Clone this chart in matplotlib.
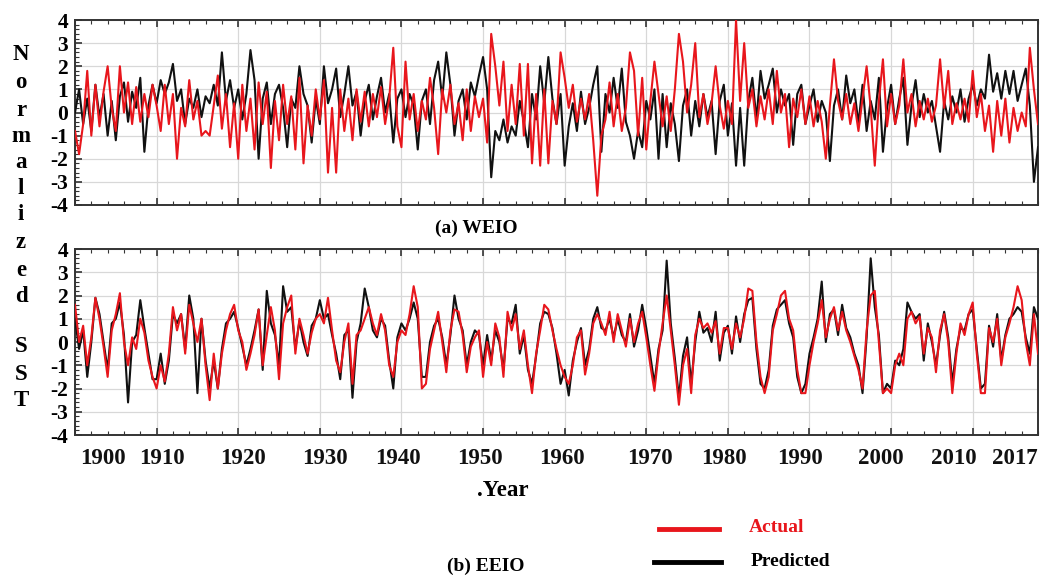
#!/usr/bin/env python3
"""
Normalized SST, actual vs predicted, for WEIO (top) and EEIO (bottom).
Writes out.png
"""

import numpy as np
import matplotlib.pyplot as plt
from matplotlib.lines import Line2D
from matplotlib.ticker import MultipleLocator

# ── data (half-year steps, 1900.0 … 2018.0) ─────────────────────────
years = np.arange(1900.0, 2018.01, 0.5)

weio_actual = [
    -0.8, -1.8, -0.5, 1.8, -1.0, 1.2, -0.6, 0.9, 2.0, 0.2, -0.8, 2.0, 0.0, 1.3, -0.5, 1.1, -0.4, 0.8, -0.2, 1.2,
    0.3, -0.8, 1.2, -0.5, 0.8, -2.0, 0.2, -0.6, 1.4, -0.3, 0.5, -1.0, -0.8, -1.0, 0.3, 1.6, -0.7, 0.8, -1.5, 0.4,
    -2.0, 1.2, -0.8, 0.6, -1.6, 1.3, -0.5, 0.9, -2.4, 0.5, -1.2, 1.2, -0.5, 0.7, -1.6, 1.5, -2.2, 0.3, -1.0, 1.0,
    -0.3, 1.4, -2.6, 0.2, -2.6, 1.0, -0.8, 0.6, -1.2, 1.0, -0.4, 0.9, -0.6, 0.8, -0.2, 1.1, -0.5, 0.6, 2.8, -0.6,
    -1.5, 2.2, -0.3, 0.8, -0.8, 0.5, -0.3, 1.5, 0.2, -1.8, 1.0, 0.0, 1.2, -0.5, 0.4, -1.2, 1.0, -0.8, 0.7, -0.2,
    0.6, -1.3, 3.4, 2.0, 0.3, 2.2, -0.8, 1.2, -0.5, 2.1, -1.0, 2.1, -2.2, 0.8, -2.3, 1.0, -2.2, 0.5, -0.5, 2.6,
    1.5, 0.2, 1.2, -0.4, 0.6, -0.3, 0.8, -1.2, -3.6, -1.0, -0.3, 1.3, -0.6, 0.8, -0.8, 0.2, 2.6, 1.8, -1.0, 1.5,
    -1.6, 0.5, 2.2, 0.8, -0.6, 0.7, -0.8, 1.0, 3.4, 2.2, 0.0, 1.2, 3.0, -0.2, 0.8, -0.5, 0.4, 2.0, 0.3, -0.7,
    0.5, -0.5, 4.0, 0.5, 3.0, 0.2, 1.0, -0.6, 0.7, -0.3, 1.0, -0.5, 1.8, 0.0, 0.8, -1.5, 0.6, -0.2, 1.0, -0.5,
    0.7, -0.6, 0.5, -0.4, -2.0, 0.3, 2.3, 0.5, -0.3, 0.8, -0.5, 0.4, -0.8, 0.6, 2.0, 0.2, -2.3, 0.5, 2.3, -0.6,
    0.8, -0.5, 0.3, 2.3, 0.0, 0.8, -0.6, 0.5, -0.3, 0.6, -0.4, 0.3, 2.3, 0.2, 1.8, -0.5, 0.4, -0.3, 0.6, -0.4,
    1.8, -0.2, 0.8, -0.8, 0.3, -1.7, 0.5, -1.0, 0.6, -1.3, 0.2, -0.8, 0.0, -0.6, 2.8, 1.0, -0.5,
]
weio_pred = [
    0.0, 1.0, -0.5, 0.6, -0.8, 1.2, -0.2, 0.8, -1.0, 0.5, -1.2, 0.7, 1.3, -0.4, 0.9, 0.2, 1.5, -1.7, 0.3, 1.2,
    0.4, 1.4, 0.8, 1.3, 2.1, 0.5, 1.0, -0.5, 0.6, 0.2, 1.0, -0.2, 0.7, 0.4, 1.2, 0.3, 2.6, 0.5, 1.4, 0.2,
    1.0, -0.3, 0.8, 2.7, 1.4, -2.0, 0.6, 1.3, -0.5, 0.8, 1.2, 0.2, -1.5, 0.6, 0.2, 2.0, 0.8, 0.3, -1.3, 0.6,
    -0.5, 2.0, 0.4, 1.0, 1.9, -0.2, 0.8, 2.0, 0.3, 0.9, -1.0, 0.5, 1.2, -0.3, 0.7, 1.5, 0.0, 0.8, -1.3, 0.6,
    1.0, -0.2, 0.8, 0.3, -1.6, 0.5, 1.0, -0.5, 1.4, 2.2, 0.6, 2.6, 1.2, -1.0, 0.5, 1.0, -0.3, 1.3, 0.7, 1.6,
    2.4, 1.0, -2.8, -0.8, -1.2, -0.3, -1.3, -0.6, -1.0, 0.5, -0.4, -1.5, 0.8, -0.3, 2.0, 0.4, 2.4, 0.6, -0.5, 0.8,
    -2.3, -0.6, 0.4, -0.8, 0.9, -0.5, 0.2, 1.2, 2.0, -1.7, 0.8, 0.0, 1.5, 0.2, 1.9, -0.4, -1.0, -2.0, -0.8, -1.5,
    0.5, -0.3, 1.0, -2.0, 0.8, -1.5, 0.4, -0.5, -2.1, 0.3, 1.0, -1.0, 0.5, -0.6, 0.8, -0.2, 0.5, -1.8, 0.5, 1.2,
    -1.0, 0.4, -2.3, 0.2, -2.3, 0.5, 1.5, -0.3, 1.8, 0.6, 1.2, 1.9, 0.0, 1.0, 0.3, 0.8, -1.4, 0.8, 1.2, -0.5,
    0.3, 1.0, -0.4, 0.5, 0.0, -2.1, 0.3, 1.0, -0.3, 1.6, 0.4, 1.0, -0.5, 1.2, -0.8, 0.5, -0.3, 1.5, -1.7, 0.2,
    1.2, -0.5, 0.6, 1.5, -1.4, 0.3, 1.4, -0.2, 0.8, 0.0, 0.5, -0.6, -1.7, 0.5, -0.3, 0.7, 0.0, 1.0, -0.4, 0.6,
    1.2, 0.3, 1.0, 0.6, 2.5, 0.9, 1.7, 0.6, 1.8, 0.8, 1.8, 0.5, 1.2, 1.9, 0.3, -3.0, -1.5,
]
eeio_actual = [
    1.6, 0.0, 0.7, -1.0, 0.2, 1.9, 1.0, -0.2, -1.5, 0.5, 1.2, 2.1, 0.0, -1.0, 0.2, -0.3, 1.0, 0.4, -0.8, -1.5,
    -2.0, -1.0, -1.7, -0.5, 1.5, 0.5, 1.2, -0.5, 1.6, 0.8, 0.0, 1.0, -1.0, -2.5, -0.5, -2.0, -0.5, 0.5, 1.2, 1.6,
    0.5, 0.0, -1.2, -0.5, 0.3, 1.4, -1.0, 0.3, 1.5, 0.5, -1.6, 0.8, 1.5, 2.0, -0.5, 1.0, 0.3, -0.5, 0.4, 1.0,
    1.2, 0.8, 1.9, 0.5, -0.8, -1.3, 0.0, 0.8, -1.8, 0.3, 0.5, 1.0, 1.5, 0.8, 0.3, 1.2, 0.5, -1.0, -1.5, 0.0,
    0.5, 0.3, 1.2, 2.4, 1.5, -2.0, -1.8, -0.3, 0.5, 1.3, 0.0, -1.3, 0.5, 1.4, 1.3, 0.3, -1.3, -0.2, 0.2, 0.5,
    -1.5, 0.0, -1.0, 0.8, 0.2, -1.5, 1.3, 0.5, 1.2, -0.3, 0.5, -1.0, -2.2, -0.5, 0.5, 1.6, 1.4, 0.5, -0.3, -1.0,
    -1.5, -1.8, -1.0, 0.2, 0.5, -1.4, -0.5, 0.8, 1.2, 0.8, 0.3, 1.3, 0.0, 1.2, 0.5, -0.2, 1.0, 0.0, 0.8, 1.3,
    0.2, -1.0, -2.1, -0.5, 0.8, 2.0, 0.5, -1.0, -2.7, -1.0, -0.3, -2.2, 0.3, 1.0, 0.6, 0.8, 0.4, 0.9, -0.5, 0.6,
    0.6, -0.3, 0.8, 0.2, 1.0, 2.3, 2.2, 0.0, -1.5, -2.2, -1.5, 0.5, 1.2, 2.0, 2.2, 1.0, 0.5, -1.2, -2.2, -2.2,
    -1.0, 0.0, 0.8, 1.8, 0.2, 1.0, 1.5, 0.5, 1.3, 0.5, 0.0, -0.6, -1.2, -2.0, 0.5, 2.0, 2.2, 0.0, -2.2, -2.0,
    -2.2, -1.0, -0.5, -1.0, 1.0, 1.3, 0.8, 1.1, -0.5, 0.6, 0.2, -1.3, 0.5, 1.2, 0.0, -2.2, -0.5, 0.8, 0.3, 1.2,
    1.7, -0.5, -2.2, -2.2, 0.6, 0.0, 1.0, -1.0, 0.2, 0.8, 1.5, 2.4, 1.8, 0.0, -1.0, 1.2, -0.5,
]
eeio_pred = [
    1.0, -0.3, 0.5, -1.5, 0.0, 1.9, 1.2, 0.0, -1.2, 0.8, 1.0, 1.7, 0.3, -2.6, 0.0, 0.3, 1.8, 0.6, -0.5, -1.6,
    -1.6, -0.5, -1.8, -0.8, 1.2, 0.8, 1.2, -0.3, 2.0, 1.0, -2.2, 1.0, -0.8, -2.0, -0.8, -2.0, -0.3, 0.8, 1.0, 1.3,
    0.6, -0.2, -1.0, -0.3, 0.5, 1.4, -1.2, 2.2, 0.8, 0.3, -1.0, 2.4, 1.3, 1.5, -0.3, 0.9, 0.0, -0.6, 0.7, 1.0,
    1.8, 1.0, 1.2, 0.3, -0.5, -1.6, 0.3, 0.5, -2.4, 0.0, 0.8, 2.3, 1.5, 0.5, 0.2, 1.0, 0.7, -0.8, -2.0, 0.2,
    0.8, 0.5, 1.0, 1.7, 1.0, -1.5, -1.5, 0.0, 0.7, 1.0, 0.2, -1.0, 0.3, 2.0, 1.0, 0.5, -1.0, 0.0, 0.5, 0.3,
    -1.0, 0.3, -0.8, 0.5, 0.0, -1.2, 1.0, 0.8, 1.6, -0.5, 0.3, -1.2, -1.8, -0.6, 0.8, 1.3, 1.2, 0.6, -0.5, -1.8,
    -1.2, -2.3, -0.8, 0.0, 0.6, -1.0, -0.3, 1.0, 1.5, 0.6, 0.5, 1.0, 0.2, 1.0, 0.3, 0.0, 1.2, -0.2, 0.5, 1.6,
    0.6, -0.6, -1.8, -0.3, 0.5, 3.5, 0.8, -0.7, -2.4, -0.6, 0.2, -1.8, 0.0, 1.3, 0.4, 0.6, 0.0, 1.3, -0.8, 0.4,
    0.7, -0.5, 1.1, 0.0, 1.2, 1.8, 1.9, -0.3, -1.8, -2.0, -1.2, 0.7, 1.4, 1.6, 1.8, 0.8, 0.2, -1.5, -2.2, -1.8,
    -0.5, 0.2, 1.0, 2.6, 0.0, 1.2, 1.4, 0.3, 1.6, 0.6, 0.2, -0.5, -1.0, -2.2, 0.2, 3.6, 1.5, 0.3, -2.2, -1.8,
    -2.0, -0.8, -1.0, -0.3, 1.7, 1.3, 1.0, 1.2, -0.8, 0.8, 0.0, -1.0, 0.3, 1.3, 0.2, -1.8, -0.3, 0.6, 0.5, 1.2,
    1.4, -0.3, -2.0, -1.8, 0.7, -0.2, 1.2, -0.8, 0.3, 1.0, 1.2, 1.5, 1.3, 0.2, -0.5, 1.5, 1.0,
]

# x tick labels sit a bit off their gridlines in the original
xlabels    = ["1900", "1910", "1920", "1930", "1940", "1950", "1960",
              "1970", "1980", "1990", "2000", "2010", "2017"]
xlabel_pos = [1903.4, 1910.7, 1920.6, 1930.6, 1939.6, 1949.6, 1959.7,
              1970.5, 1979.5, 1988.8, 1998.7, 2007.7, 2015.2]

# ── style ──────────────────────────────────────────────────────────
RED   = "#e8161c"
SERIF = ["Liberation Serif", "DejaVu Serif"]
plt.rcParams["font.family"] = SERIF
plt.rcParams["font.weight"] = "bold"

W, H = 1042, 576
fig = plt.figure(figsize=(W / 100, H / 100), dpi=100)


def fx(px):
    return px / W


def fy(py):
    return 1 - py / H


def panel(top_px, bot_px, actual, pred):
    ax = fig.add_axes([fx(75), fy(bot_px), fx(1038 - 75), fy(top_px) - fy(bot_px)])
    ax.plot(years, pred, color="#111111", lw=1.5, zorder=3)
    ax.plot(years, actual, color=RED, lw=1.5, zorder=4)
    ax.set_xlim(1900, 2018)
    ax.set_ylim(-4, 4)
    ax.xaxis.set_major_locator(MultipleLocator(10))
    ax.xaxis.set_minor_locator(MultipleLocator(2))
    ax.yaxis.set_major_locator(MultipleLocator(1))
    ax.yaxis.set_minor_locator(MultipleLocator(0.2))
    ax.grid(True, which="major", color="#d8d8d8", lw=0.9, zorder=0)
    ax.tick_params(which="both", direction="in", top=True, bottom=True,
                   left=True, right=False, color="#333333")
    ax.tick_params(which="major", length=5, width=1.2, labelsize=15.5, pad=5)
    ax.tick_params(which="minor", length=3, width=0.8)
    ax.set_xticklabels([])
    ax.set_yticks(range(-4, 5))
    ax.set_yticklabels([str(v) for v in range(-4, 5)], fontweight="bold")
    for sp in ax.spines.values():
        sp.set_color("#333333")
        sp.set_linewidth(1.4)
    return ax


ax_a = panel(20, 205, weio_actual, weio_pred)
ax_b = panel(249, 435, eeio_actual, eeio_pred)

# ── x labels under the lower panel ─────────────────────────────────
for lab, pos in zip(xlabels, xlabel_pos):
    ax_b.text(pos, -5.0, lab, ha="center", va="center", fontsize=16.5,
              fontweight="bold", color="#111111", clip_on=False)

# ── texts ──────────────────────────────────────────────────────────
fig.text(fx(476), fy(228), "(a) WEIO", ha="center", va="center", fontsize=14, fontweight="bold")
fig.text(fx(503), fy(490), ".Year", ha="center", va="center", fontsize=16.5, fontweight="bold")
fig.text(fx(486), fy(566), "(b) EEIO", ha="center", va="center", fontsize=14, fontweight="bold")

# stacked y label letters
letters = ["N", "o", "r", "m", "a", "l", "i", "z", "e", "d", "S", "S", "T"]
letter_y = [55, 83, 111, 137, 163, 189, 215, 243, 270, 296, 347, 374, 401]
for ch, py in zip(letters, letter_y):
    fig.text(fx(21), fy(py), ch, ha="center", va="center", fontsize=16.5, fontweight="bold")

# ── legend (drawn by hand) ─────────────────────────────────────────
fig.add_artist(Line2D([fx(659), fx(719)], [fy(529), fy(529)], color=RED, lw=3.5))
fig.add_artist(Line2D([fx(654), fx(721)], [fy(562), fy(562)], color="black", lw=3.5))
fig.text(fx(749), fy(527), "Actual", ha="left", va="center", fontsize=14,
         fontweight="bold", color=RED)
fig.text(fx(751), fy(561), "Predicted", ha="left", va="center", fontsize=14,
         fontweight="bold", color="black")

fig.savefig("out.png", dpi=100, facecolor="white")
